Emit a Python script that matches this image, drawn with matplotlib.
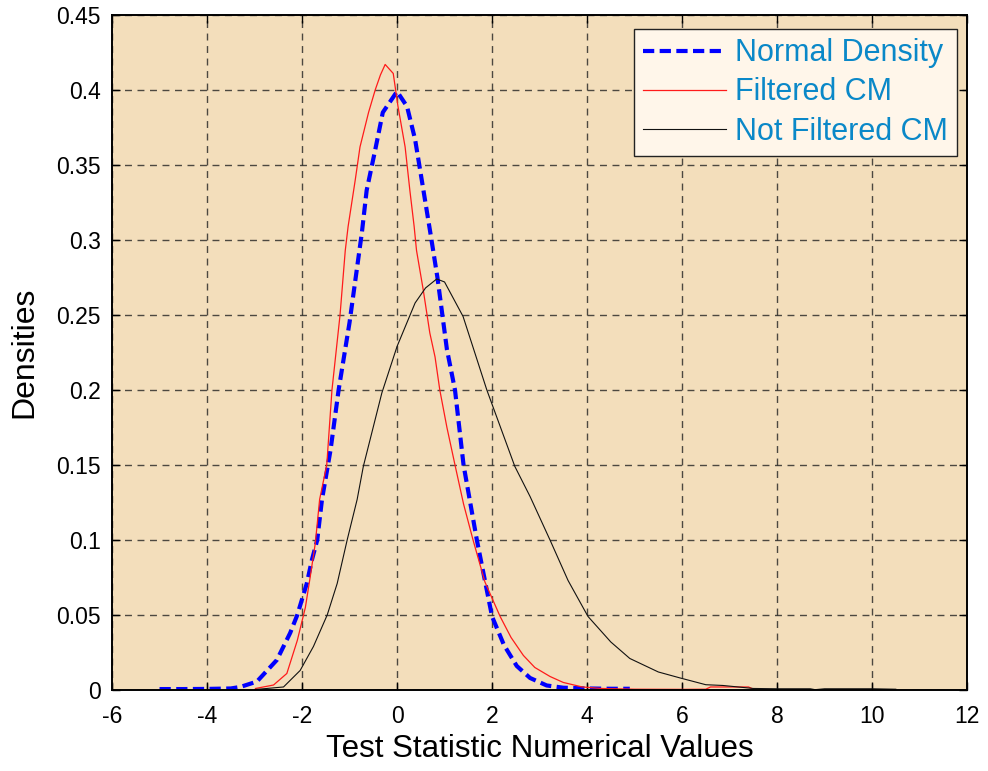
import matplotlib.pyplot as plt

plt.rcParams['font.family'] = ['Liberation Sans', 'DejaVu Sans']
plt.rcParams['axes.unicode_minus'] = False

# Normal density (blue dashed)
normal_x = [-5.0, -4.5, -4.0, -3.5, -3.3, -2.95, -2.53, -2.25, -2.1, -1.9, -1.79, -1.68,
            -1.58, -1.4, -1.23, -1.0, -0.74, -0.64, -0.46, -0.3, 0.0, 0.21, 0.38, 0.52,
            0.7, 0.85, 1.05, 1.22, 1.4, 1.68, 2.0, 2.25, 2.52, 2.8, 3.15, 3.5, 4.0, 4.5, 4.9]
normal_y = [0.0006, 0.0006, 0.0007, 0.001, 0.002, 0.0056, 0.02, 0.038, 0.05, 0.071, 0.087, 0.1,
            0.127, 0.16, 0.2, 0.245, 0.305, 0.333, 0.36, 0.385, 0.399, 0.389, 0.367, 0.34,
            0.305, 0.275, 0.227, 0.2, 0.15, 0.1, 0.049, 0.03, 0.016, 0.008, 0.003, 0.0015,
            0.001, 0.0008, 0.0008]

# Filtered CM (red)
filt_x = [-2.98, -2.6, -2.32, -2.1, -1.93, -1.83, -1.72, -1.63, -1.48, -1.37, -1.2, -1.09,
          -1.03, -0.88, -0.78, -0.6, -0.46, -0.35, -0.25, -0.08, 0.02, 0.17, 0.27, 0.36,
          0.41, 0.55, 0.69, 0.8, 0.9, 1.05, 1.22, 1.4, 1.6, 1.85, 2.17, 2.4, 2.66, 2.9,
          3.22, 3.5, 3.9, 4.3, 5.0, 6.0, 6.5, 6.6, 7.4, 7.5]
filt_y = [0.001, 0.0033, 0.011, 0.033, 0.055, 0.075, 0.098, 0.127, 0.15, 0.2, 0.25, 0.293,
          0.309, 0.34, 0.362, 0.385, 0.4, 0.41, 0.417, 0.411, 0.389, 0.362, 0.333, 0.309,
          0.293, 0.267, 0.238, 0.222, 0.2, 0.175, 0.15, 0.124, 0.1, 0.072, 0.049, 0.035,
          0.023, 0.015, 0.009, 0.005, 0.002, 0.001, 0.0005, 0.0004, 0.0005, 0.002, 0.002,
          0.0005]

# Not filtered CM (black)
nofilt_x = [-3.0, -2.74, -2.39, -2.04, -1.76, -1.47, -1.26, -1.05, -0.84, -0.71, -0.32, 0.0,
            0.38, 0.6, 0.835, 1.0, 1.39, 1.89, 2.48, 2.8, 3.22, 3.6, 4.02, 4.5, 4.9, 5.5,
            5.96, 6.5, 6.86, 7.5, 8.0, 8.7, 8.8, 9.0, 10.0, 10.5]
nofilt_y = [0.0003, 0.001, 0.002, 0.013, 0.029, 0.05, 0.071, 0.1, 0.127, 0.149, 0.198, 0.229,
            0.258, 0.268, 0.274, 0.272, 0.249, 0.2, 0.149, 0.129, 0.1, 0.073, 0.049, 0.032,
            0.021, 0.012, 0.008, 0.0035, 0.003, 0.001, 0.0008, 0.0008, 0.0002, 0.0008,
            0.0008, 0.0005]

x_ticks = [-6, -4, -2, 0, 2, 4, 6, 8, 10, 12]
y_ticks = [0, 0.05, 0.1, 0.15, 0.2, 0.25, 0.3, 0.35, 0.4, 0.45]
y_tick_labels = ['0', '0.05', '0.1', '0.15', '0.2', '0.25', '0.3', '0.35', '0.4', '0.45']

fig = plt.figure(figsize=(9.88, 7.71), dpi=100)
fig.patch.set_facecolor('white')
ax = fig.add_axes([0.1134, 0.1051, 0.8654, 0.8755])
ax.set_facecolor('#F3DEBB')

blue, = ax.plot(normal_x, normal_y, color='#0000FF', lw=3.0, label='Normal Density')
blue.set_dashes([2.7, 1.3])
ax.plot(filt_x, filt_y, color='#FF1A1A', lw=0.9, label='Filtered CM')
ax.plot(nofilt_x, nofilt_y, color='#111111', lw=0.8, label='Not Filtered CM')

ax.set_xlim(-6, 12)
ax.set_ylim(0, 0.45)
ax.set_xticks(x_ticks)
ax.set_yticks(y_ticks)
ax.set_yticklabels(y_tick_labels)
ax.tick_params(direction='in', top=True, right=True, length=6, width=1,
               labelsize=16.5)
ax.tick_params(axis='x', pad=11)
ax.tick_params(axis='y', pad=8)
for s in ax.spines.values():
    s.set_linewidth(1.4)

ax.grid(True, color='#222222', linestyle=(0, (5, 4)), linewidth=1.0, alpha=0.8)
ax.set_axisbelow(True)

ax.set_xlabel('Test Statistic Numerical Values', fontsize=22.5, labelpad=4)
ax.set_ylabel('Densities', fontsize=23, labelpad=12)

leg = ax.legend(loc='upper right', bbox_to_anchor=(0.988, 0.979), borderaxespad=0,
                fontsize=22, fancybox=False, framealpha=1, facecolor='#FFF6EA',
                edgecolor='#222222', handlelength=2.7, handletextpad=0.3,
                labelspacing=0.3, borderpad=0.3)
leg.get_frame().set_linewidth(1.0)
for t in leg.get_texts():
    t.set_color('#0A88C8')

fig.savefig('out.png', dpi=100, facecolor=fig.get_facecolor())
